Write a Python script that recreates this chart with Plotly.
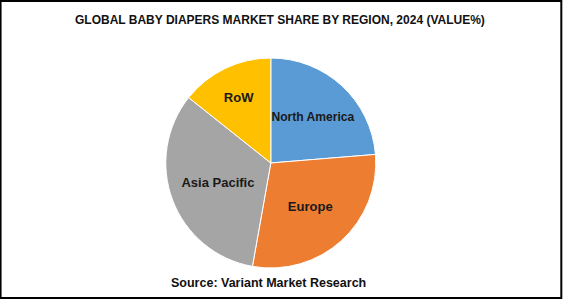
import plotly.graph_objects as go

regions = ["North America", "Europe", "Asia Pacific", "RoW"]
shares = [23.7, 29.1, 32.9, 14.3]
colors = ["#5B9BD5", "#ED7D31", "#A5A5A5", "#FFC000"]

title_text = "GLOBAL BABY DIAPERS MARKET SHARE BY REGION, 2024 (VALUE%)"
source_text = "Source: Variant Market Research"

fig = go.Figure(go.Pie(
    labels=regions,
    values=shares,
    sort=False,
    direction="clockwise",
    rotation=0,
    marker=dict(colors=colors, line=dict(color="white", width=1)),
    textinfo="label",
    textposition="inside",
    insidetextorientation="horizontal",
    textfont=dict(family="Liberation Sans", size=13, color="#1a1a1a", weight="bold"),
    hoverinfo="label+percent",
    domain=dict(x=[0.281, 0.681], y=[0.1037, 0.806]),
    showlegend=False,
))

fig.update_layout(
    width=563, height=299,
    margin=dict(l=0, r=0, t=0, b=0),
    paper_bgcolor="white",
    plot_bgcolor="white",
    showlegend=False,
    annotations=[
        dict(text="<b>" + title_text + "</b>", x=0.497, y=1 - 20/299, xref="paper", yref="paper",
             showarrow=False, font=dict(family="Liberation Sans", size=12, color="#111111"),
             xanchor="center", yanchor="middle"),
        dict(text="<b>" + source_text + "</b>", x=268/563, y=1 - 283/299, xref="paper", yref="paper",
             showarrow=False, font=dict(family="Liberation Sans", size=12.5, color="#111111"),
             xanchor="center", yanchor="middle"),
    ],
    shapes=[
        dict(type="rect", xref="paper", yref="paper", x0=0.001, y0=0.003, x1=0.997, y1=0.997,
             line=dict(color="black", width=2), fillcolor="rgba(0,0,0,0)"),
    ],
)

fig.write_html("out.html")
